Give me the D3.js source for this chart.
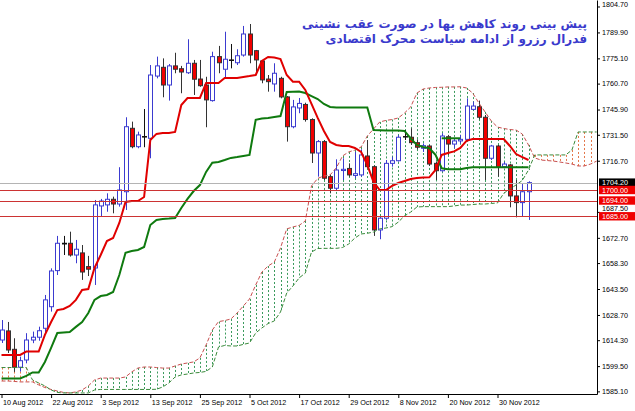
<!DOCTYPE html>
<html><head><meta charset="utf-8">
<script src="https://cdn.jsdelivr.net/npm/d3@7"></script>
<style>body{margin:0;background:#fff}svg{display:block}</style>
</head><body>
<svg id="c" width="635" height="411"></svg>
<script>
// ---------- DATA ----------
const dateLabels = ["10 Aug 2012","22 Aug 2012","3 Sep 2012","13 Sep 2012","25 Sep 2012","5 Oct 2012","17 Oct 2012","29 Oct 2012","8 Nov 2012","20 Nov 2012","30 Nov 2012"];
const dateBars = [0,8,16,24,32,40,48,56,64,72,80];
const tickPrices = [1804.70,1789.90,1775.10,1760.70,1745.90,1731.50,1716.70,1687.50,1672.70,1658.30,1643.50,1628.70,1614.30,1599.50,1585.10];

const open = [1614.4,1619.6,1609.1,1598.9,1603.0,1614.4,1616.0,1621.1,1633.4,1654.0,
1669.6,1669.6,1662.9,1664.1,1656.3,1655.5,1690.9,1691.5,1694.7,1692.0,
1699.0,1735.2,1724.7,1730.5,1729.5,1765.0,1770.0,1759.9,1770.8,1769.2,
1766.9,1772.3,1763.3,1759.9,1751.0,1776.1,1768.9,1774.2,1772.6,1777.0,
1789.0,1779.5,1773.6,1763.3,1760.5,1763.7,1753.1,1736.1,1746.8,1748.8,
1740.2,1721.1,1727.6,1707.6,1701.0,1711.1,1712.3,1708.3,1708.6,1719.4,
1713.3,1677.2,1683.9,1715.2,1716.7,1730.2,1730.1,1727.0,1723.8,1725.1,
1715.2,1711.0,1730.4,1726.2,1728.0,1728.9,1746.0,1747.5,1741.5,1718.1,
1725.1,1713.3,1714.3,1696.6,1692.8,1699.0];
const high = [1625.8,1624.7,1615.4,1604.9,1618.3,1619.2,1622.0,1640.1,1655.3,1673.8,
1673.8,1676.2,1671.5,1668.6,1662.4,1694.3,1694.9,1698.1,1696.2,1713.0,
1741.5,1739.0,1733.3,1746.2,1771.3,1776.1,1775.1,1771.9,1778.3,1770.8,
1786.0,1774.2,1774.2,1764.6,1778.9,1782.2,1790.3,1783.3,1780.3,1793.6,
1794.7,1779.9,1774.2,1765.6,1772.3,1764.6,1753.6,1751.4,1752.5,1749.8,
1740.9,1728.5,1728.5,1708.6,1717.5,1718.1,1715.2,1721.7,1723.2,1728.5,
1714.0,1684.8,1717.1,1719.0,1731.4,1734.2,1735.2,1728.9,1726.6,1725.7,
1716.2,1732.4,1731.4,1729.5,1731.4,1752.3,1750.4,1751.0,1742.8,1725.7,
1725.7,1716.0,1714.8,1705.7,1703.4,1705.0];
const low = [1612.7,1607.0,1596.2,1596.4,1601.1,1612.6,1614.0,1618.3,1630.6,1651.5,
1662.9,1662.0,1658.2,1648.7,1650.9,1645.8,1684.6,1687.6,1686.7,1690.5,
1688.6,1723.8,1723.8,1724.4,1718.1,1763.7,1752.9,1751.0,1766.6,1755.2,
1766.2,1754.2,1758.9,1735.8,1750.4,1766.6,1763.7,1769.4,1771.3,1776.1,
1772.3,1766.6,1760.9,1756.1,1756.1,1752.3,1727.6,1735.2,1743.8,1739.0,
1715.4,1707.6,1705.7,1698.1,1700.0,1705.7,1707.6,1706.7,1707.6,1712.4,
1673.8,1671.9,1682.9,1713.3,1716.2,1728.5,1725.7,1723.2,1721.7,1713.7,
1705.7,1710.4,1720.0,1723.8,1726.6,1728.5,1745.6,1740.3,1705.7,1717.1,
1707.6,1712.6,1690.1,1684.4,1684.8,1682.9];
const close = [1620.1,1608.7,1598.9,1602.6,1614.4,1616.0,1619.7,1637.3,1653.8,1669.6,
1669.2,1662.9,1666.2,1653.2,1654.8,1691.5,1693.7,1694.7,1692.0,1700.0,
1736.1,1724.7,1731.4,1730.2,1765.6,1770.8,1759.9,1770.8,1768.9,1767.3,
1772.3,1763.2,1759.5,1751.4,1776.1,1772.6,1774.6,1773.9,1776.6,1789.0,
1777.0,1774.2,1762.8,1761.8,1766.6,1753.1,1736.1,1747.4,1749.4,1740.2,
1721.1,1727.6,1706.7,1701.0,1711.4,1711.8,1708.6,1709.3,1720.0,1713.3,
1677.2,1683.9,1715.2,1716.7,1730.1,1730.5,1727.0,1724.4,1725.3,1714.8,
1711.0,1730.8,1726.2,1728.0,1728.9,1747.9,1747.9,1741.5,1718.1,1725.1,
1713.0,1714.8,1696.6,1692.8,1699.0,1704.2];

const tenkan = [1605.9,1605.9,1605.9,1605.9,1607.8,1607.8,1607.8,1617.3,1624.7,1631.5,
1632.1,1633.8,1637.3,1643.0,1643.5,1655.5,1662.9,1670.9,1672.6,1681.2,
1693.2,1693.7,1693.7,1696.0,1728.5,1732.0,1732.5,1732.5,1733.1,1748.5,
1752.5,1752.5,1752.5,1761.0,1761.0,1761.0,1763.9,1763.9,1763.9,1764.5,
1765.0,1765.6,1773.6,1775.9,1775.6,1774.7,1765.6,1761.8,1761.8,1757.1,
1749.1,1741.1,1733.7,1727.4,1725.7,1725.1,1725.1,1724.0,1721.7,1714.3,
1704.6,1700.0,1700.0,1702.3,1704.0,1705.1,1706.3,1706.8,1707.1,1707.2,
1711.4,1720.0,1721.1,1722.0,1724.0,1728.0,1729.1,1729.1,1729.1,1729.1,
1729.1,1729.1,1725.1,1720.5,1718.8,1717.1];
const kijun = [1592.5,1592.5,1592.5,1592.5,1593.9,1595.9,1595.9,1601.9,1609.9,1618.4,
1618.7,1619.0,1621.9,1624.7,1629.8,1637.3,1639.5,1640.1,1641.8,1651.5,
1664.1,1665.2,1665.8,1667.5,1680.0,1682.9,1683.5,1683.7,1684.0,1689.7,
1694.9,1699.4,1702.8,1710.3,1715.6,1716.0,1717.1,1718.3,1718.8,1719.4,
1720.0,1740.0,1740.8,1741.1,1741.7,1742.2,1755.9,1756.1,1756.2,1755.3,
1753.6,1751.9,1749.1,1747.4,1747.1,1747.1,1747.1,1747.1,1747.1,1747.1,
1734.2,1734.1,1733.9,1733.9,1733.9,1733.7,1729.4,1725.7,1724.5,1723.8,
1720.0,1712.4,1711.8,1711.8,1711.8,1712.6,1713.0,1713.0,1713.0,1713.0,
1713.0,1713.0,1713.0,1713.0,1713.0,1713.0];

const spanA = [1591.0,1591.0,1590.8,1590.5,1590.5,1590.5,1588.8,1587.3,1586.2,1585.3,
1584.5,1584.2,1584.8,1585.9,1588.2,1591.6,1592.7,1592.7,1592.7,1592.7,
1593.3,1596.2,1598.4,1599.0,1599.0,1598.7,1598.4,1598.4,1599.6,1600.7,
1601.3,1601.9,1604.2,1611.6,1620.1,1624.9,1625.5,1626.4,1629.8,1633.8,
1637.8,1645.8,1653.2,1656.6,1658.9,1666.9,1677.8,1678.9,1679.8,1682.3,
1702.3,1706.6,1708.0,1708.6,1712.6,1719.4,1721.7,1722.8,1724.5,1730.8,
1734.8,1738.8,1739.7,1740.2,1741.1,1743.9,1747.4,1755.3,1757.6,1758.2,
1758.5,1758.6,1758.8,1758.8,1758.9,1758.2,1755.3,1749.6,1744.5,1739.4,
1735.9,1735.1,1734.5,1734.2,1731.9,1725.7,1718.3,1717.1,1716.8,1716.5,
1716.0,1715.4,1714.8,1713.7,1713.7,1714.8,1716.5];
const spanB = [1598.7,1598.7,1598.7,1598.7,1598.7,1591.6,1589.9,1588.2,1585.9,1584.5,
1584.2,1584.2,1584.2,1584.2,1584.2,1585.9,1586.2,1586.2,1586.2,1586.2,
1586.2,1586.2,1586.2,1586.2,1586.2,1586.3,1587.6,1589.9,1593.3,1594.5,
1595.0,1595.6,1595.9,1596.5,1599.0,1610.4,1611.3,1611.0,1611.0,1611.9,
1612.7,1618.4,1621.3,1623.8,1625.3,1630.4,1641.2,1645.2,1649.8,1652.6,
1664.6,1666.6,1666.7,1666.7,1666.7,1667.2,1669.2,1672.6,1674.9,1675.3,
1676.0,1677.8,1678.3,1679.1,1681.7,1685.2,1687.4,1690.3,1690.5,1690.5,
1690.5,1690.5,1690.5,1690.9,1691.4,1691.4,1691.7,1692.0,1692.0,1692.3,
1692.6,1698.1,1700.6,1702.9,1705.4,1711.4,1720.0,1720.0,1720.0,1720.0,
1720.0,1720.0,1722.8,1733.1,1733.1,1733.1,1733.1];

const bidPrice = 1704.20;
const levelPrices = [1700.00, 1694.00, 1685.00];
const trendSeg = {from: 71, to: 74, price: 1729.5};
const titleLines = ["پیش بینی روند کاهش بها در صورت عقب نشینی", "فدرال رزرو از ادامه سیاست محرک اقتصادی"];

// ---------- DRAW ----------
const W = 635, H = 411, PR = 597, PB = 394;
const svg = d3.select("#c");
svg.append("rect").attr("width", W).attr("height", H).attr("fill", "#fff");
const x = d3.scaleLinear().domain([0, 96]).range([1.5, 596.7]);
const y = d3.scaleLinear().domain([1583.6, 1808.4]).range([PB, 0]);
const px = i => Math.round(x(i)) + 0.5;

svg.append("defs").append("clipPath").attr("id", "clip")
  .append("rect").attr("x", 0).attr("y", 0).attr("width", PR).attr("height", PB);
const g = svg.append("g").attr("clip-path", "url(#clip)");

// kumo hatch
const GREEN_HATCH = "#3a9a5c", RED_HATCH = "#e4774a";
g.append("g").selectAll("line").data(d3.range(spanA.length)).join("line")
  .attr("x1", px).attr("x2", px)
  .attr("y1", i => y(Math.max(spanA[i], spanB[i]))).attr("y2", i => y(Math.min(spanA[i], spanB[i])))
  .attr("stroke", i => (spanA[i] >= spanB[i]) ? GREEN_HATCH : RED_HATCH)
  .attr("stroke-width", 1).attr("stroke-dasharray", "2,2");

// candles
const idx = d3.range(open.length);
const isDoji = i => Math.abs(open[i] - close[i]) < 0.5;
const edge = i => isDoji(i) ? "#111" : (close[i] > open[i] ? "#3b3bd0" : "#333");
const cg = g.append("g");
cg.selectAll("line").data(idx).join("line")
  .attr("x1", px).attr("x2", px)
  .attr("y1", i => y(high[i])).attr("y2", i => y(low[i]))
  .attr("stroke", edge).attr("stroke-width", 1);
cg.selectAll("rect").data(idx).join("rect")
  .attr("x", i => px(i) - 2).attr("width", 4)
  .attr("y", i => y(Math.max(open[i], close[i])))
  .attr("height", i => Math.max(0.01, Math.abs(y(open[i]) - y(close[i]))))
  .attr("fill", i => close[i] > open[i] ? "#fff" : "#f00000")
  .attr("stroke", edge).attr("stroke-width", 1);

// span lines
const ln = d3.line().x((d, i) => x(i)).y(d => y(d));
g.append("path").attr("d", ln(spanA)).attr("fill", "none")
  .attr("stroke", "#c85050").attr("stroke-width", 1).attr("stroke-dasharray", "4,2");
g.append("path").attr("d", ln(spanB)).attr("fill", "none")
  .attr("stroke", "#3a8a3a").attr("stroke-width", 1).attr("stroke-dasharray", "4,2");

// tenkan / kijun
g.append("path").attr("d", ln(kijun)).attr("fill", "none")
  .attr("stroke", "#0f7a0f").attr("stroke-width", 2);
g.append("path").attr("d", ln(tenkan)).attr("fill", "none")
  .attr("stroke", "#e00000").attr("stroke-width", 2);
g.append("line").attr("x1", x(trendSeg.from)).attr("x2", x(trendSeg.to))
  .attr("y1", y(trendSeg.price)).attr("y2", y(trendSeg.price))
  .attr("stroke", "#0f7a0f").attr("stroke-width", 2);

// horizontal levels
g.append("line").attr("x1", 0).attr("x2", PR)
  .attr("y1", Math.round(y(bidPrice)) + 0.5).attr("y2", Math.round(y(bidPrice)) + 0.5)
  .attr("stroke", "#b4b4b4").attr("stroke-width", 1);
g.selectAll("line.lvl").data(levelPrices).join("line").attr("class", "lvl")
  .attr("x1", 0).attr("x2", PR)
  .attr("y1", d => Math.round(y(d)) + 0.5).attr("y2", d => Math.round(y(d)) + 0.5)
  .attr("stroke", "#cc3333").attr("stroke-width", 1);

// axes
const FONT = "'Liberation Sans', Arial, sans-serif";
const FS = 7.2;
const ya = d3.axisRight(y).tickValues(tickPrices).tickSize(3).tickSizeOuter(0)
  .tickFormat(d3.format(".2f"));
const yg = svg.append("g").attr("transform", `translate(${PR},0)`).call(ya);
yg.selectAll("text").attr("font-family", FONT).attr("font-size", FS).attr("fill", "#000").attr("x", 5);
yg.select(".domain").attr("stroke", "#000");
// top label sits at the upper edge of the window
yg.selectAll(".tick").filter(d => d === tickPrices[0]).select("text")
  .attr("y", 4.2 - y(tickPrices[0]));
// label partly hidden between the level boxes sits just above the 1685 box
yg.selectAll(".tick").filter(d => d === 1687.50).select("text")
  .attr("y", -3.6);

const xa = d3.axisBottom(x).tickValues(dateBars).tickSize(4).tickSizeOuter(0)
  .tickFormat((d, k) => dateLabels[k]);
const xg = svg.append("g").attr("transform", `translate(0,${PB})`).call(xa);
xg.select(".domain").remove();
xg.selectAll("text").attr("font-family", FONT).attr("font-size", FS).attr("fill", "#000")
  .attr("text-anchor", "start").attr("dx", 1).attr("y", 6);
svg.append("line").attr("x1", 0).attr("x2", PR + 0.5).attr("y1", PB + 0.5).attr("y2", PB + 0.5)
  .attr("stroke", "#000");

// price boxes
const boxes = [{v: bidPrice, bg: "#000", dy: -0.6}].concat(levelPrices.map(v => ({v, bg: "#f00000", dy: 0.4})));
const bx = svg.append("g");
boxes.forEach(b => {
  const cy = y(b.v);
  bx.append("rect").attr("x", PR + 2).attr("y", cy - 4.2).attr("width", W - PR - 2).attr("height", 8.4).attr("fill", b.bg);
  bx.append("text").attr("x", PR + 5).attr("y", cy + b.dy).attr("dy", "0.35em")
    .attr("font-family", FONT).attr("font-size", FS).attr("fill", "#fff").text(d3.format(".2f")(b.v));
});

// title
svg.append("g").selectAll("text").data(titleLines).join("text")
  .attr("x", 587).attr("y", (d, i) => 28 + i * 15)
  .attr("text-anchor", "end")
  .attr("font-family", "'DejaVu Sans', sans-serif").attr("font-weight", "bold")
  .attr("font-size", 12).attr("fill", "#3a3acc")
  .text(d => d);
</script>
</body></html>
